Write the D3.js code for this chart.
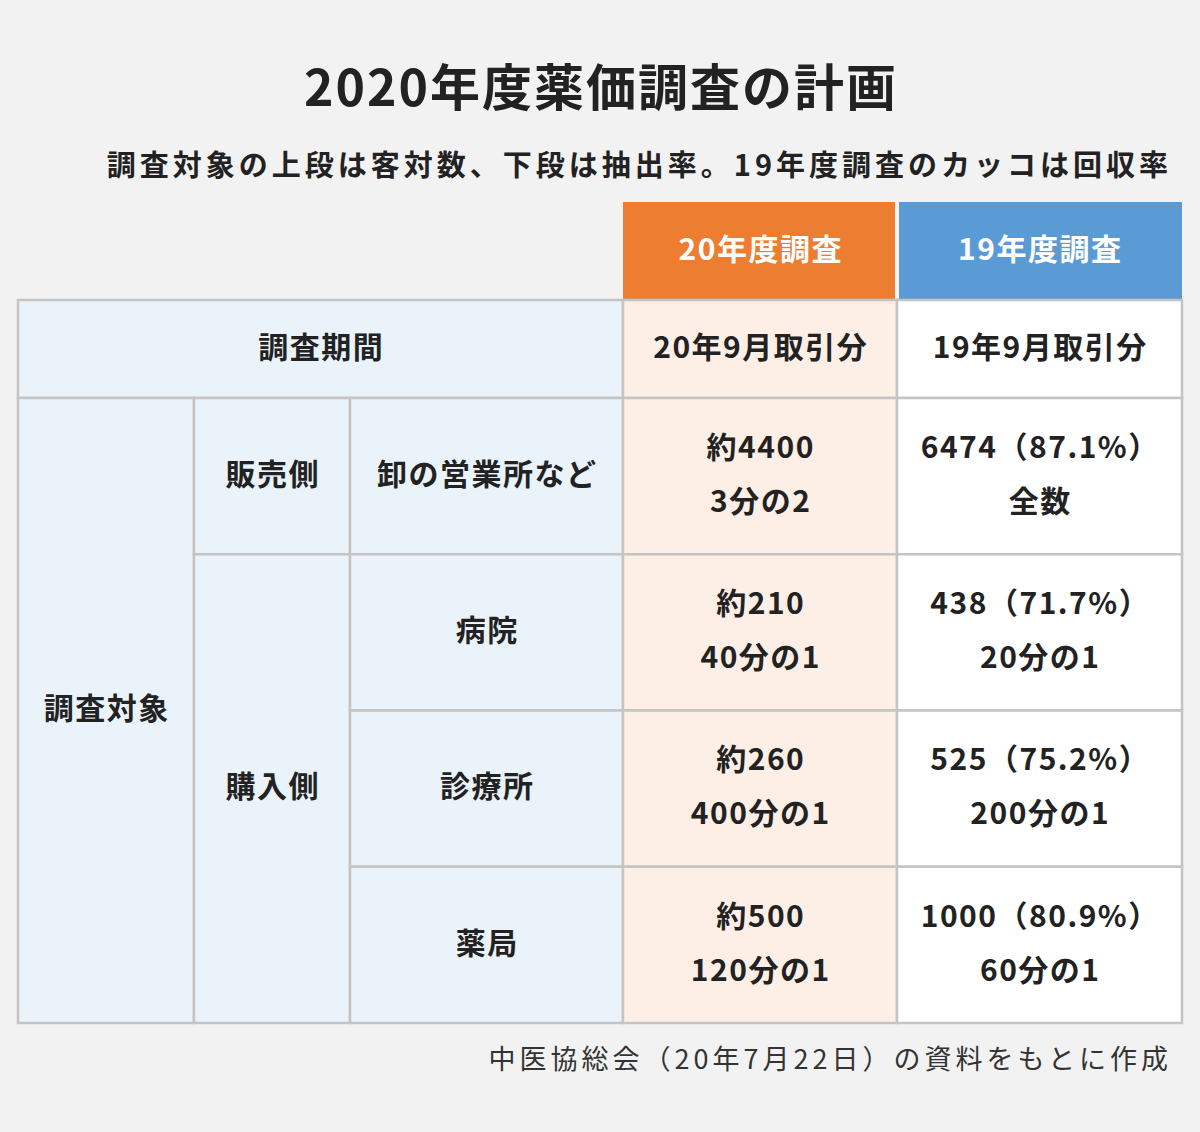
<!DOCTYPE html><html><head><meta charset="utf-8">
<script src="https://cdn.jsdelivr.net/npm/d3@7"></script>
<style>body{margin:0;background:#f2f2f2}svg{display:block;font-family:"Noto Sans CJK JP",sans-serif}</style></head><body>
<svg id="c" width="1200" height="1132"></svg>
<script>
const title="2020年度薬価調査の計画";
const subtitle="調査対象の上段は客対数、下段は抽出率。19年度調査のカッコは回収率";
const source="中医協総会（20年7月22日）の資料をもとに作成";
const headers=["20年度調査","19年度調査"];
const rowLabels=["卸の営業所など","病院","診療所","薬局"];
const survey20=[["約4400","3分の2"],["約210","40分の1"],["約260","400分の1"],["約500","120分の1"]];
const survey19=[["6474（87.1%）","全数"],["438（71.7%）","20分の1"],["525（75.2%）","200分の1"],["1000（80.9%）","60分の1"]];
const period=["20年9月取引分","19年9月取引分"];

const svg=d3.select("#c");
const x=d3.scaleOrdinal().domain([0,1,2,3,4,5]).range([18,194,350,623,897,1182]);
const y=d3.scaleLinear().domain([0,1]).range([300,398]);
const yr=d3.scaleLinear().domain([0,4]).range([398,1023]);
const border="#c4c4c4";
function txt(xc,yc,t,size,ls,fill,w){
  return svg.append("text").attr("x",xc+ls/2).attr("y",yc).attr("dy","0.36em").attr("text-anchor","middle")
    .attr("font-size",size).attr("letter-spacing",ls).attr("font-weight",w||700).attr("fill",fill).text(t);
}
function cell(x0,x1,y0,y1,fill,lines){
  svg.append("rect").attr("x",x0).attr("y",y0).attr("width",x1-x0).attr("height",y1-y0).attr("fill",fill).attr("stroke",border).attr("stroke-width",2.5);
  const cy=(y0+y1)/2, n=lines.length;
  lines.forEach((t,i)=>txt((x0+x1)/2,cy+(i-(n-1)/2)*54-2,t,30,1.5,"#222"));
}
txt(600,88,title,50,2,"#222");
svg.append("text").attr("x",1172).attr("y",176).attr("text-anchor","end").attr("font-size",29).attr("letter-spacing",4).attr("font-weight",700).attr("fill","#222").text(subtitle);
const hc=["#ed7d31","#5b9bd5"];
headers.forEach((h,i)=>{
  svg.append("rect").attr("x",x(3+i)+(i?2:0)).attr("y",202).attr("width",x(4+i)-x(3+i)-2).attr("height",98).attr("fill",hc[i]);
  txt((x(3+i)+x(4+i))/2,249,h,30,1.5,"#fff");
});
const lb="#eaf2fa", pk="#fdeee6";
cell(x(0),x(3),y(0),y(1),lb,["調査期間"]);
cell(x(3),x(4),y(0),y(1),pk,[period[0]]);
cell(x(4),x(5),y(0),y(1),"#fff",[period[1]]);
cell(x(0),x(1),yr(0),yr(4),lb,["調査対象"]);
cell(x(1),x(2),yr(0),yr(1),lb,["販売側"]);
cell(x(1),x(2),yr(1),yr(4),lb,["購入側"]);
rowLabels.forEach((r,i)=>{
  cell(x(2),x(3),yr(i),yr(i+1),lb,[r]);
  cell(x(3),x(4),yr(i),yr(i+1),pk,survey20[i]);
  cell(x(4),x(5),yr(i),yr(i+1),"#fff",survey19[i]);
});
svg.append("text").attr("x",1172).attr("y",1069).attr("text-anchor","end").attr("font-size",27).attr("letter-spacing",4).attr("fill","#333").text(source);
</script></body></html>
